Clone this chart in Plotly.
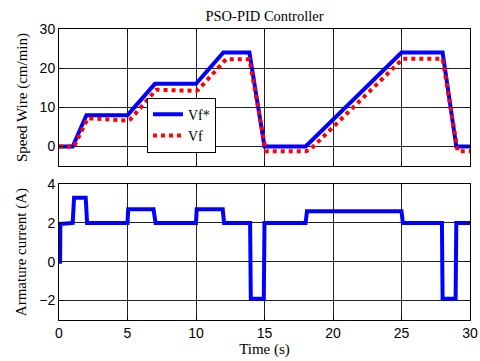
import plotly.graph_objects as go

# speed reference Vf* and measured Vf (cm/min)
t_ref = [0, 1.0, 2.0, 5.0, 7.0, 10.0, 12.0, 13.9, 15.0, 18.0, 25.0, 28.0, 29.0, 30]
vf_ref = [0, 0, 8, 8, 16, 16, 24, 24, 0, 0, 24, 24, 0, 0]

t_vf = [0, 1.1, 2.1, 5.0, 5.2, 7.1, 10.0, 10.2, 12.2, 13.9, 15.1, 18.0, 18.3, 25.1, 28.0, 29.1, 30]
vf = [0, 0, 7.2, 6.6, 6.9, 14.5, 14.2, 14.6, 22.3, 22.3, -1.2, -1.2, -0.9, 22.4, 22.4, -1.2, -1.2]

# armature current (A)
t_ia = [0, 0.08, 0.1, 1.0, 1.1, 1.95, 2.05, 5.0, 5.05, 6.9, 7.05, 10.0, 10.05, 11.95, 12.05,
        13.95, 14.0, 14.95, 15.0, 18.0, 18.1, 25.0, 25.1, 27.95, 28.0, 28.95, 29.0, 30]
ia = [0, 0, 1.95, 2.0, 3.3, 3.3, 2.0, 2.0, 2.7, 2.7, 2.0, 2.0, 2.7, 2.7, 2.0,
      2.0, -1.9, -1.9, 2.0, 2.0, 2.6, 2.6, 2.0, 2.0, -1.9, -1.9, 2.0, 2.0]

serif = "Liberation Serif, Times New Roman, serif"
sans = "Liberation Sans, Arial, sans-serif"

fig = go.Figure()
fig.add_trace(go.Scatter(x=t_ref, y=vf_ref, mode="lines", name="Vf*",
                         line=dict(color="#0000ff", width=4), xaxis="x", yaxis="y"))
fig.add_trace(go.Scatter(x=t_vf, y=vf, mode="lines", name="Vf",
                         line=dict(color="#ff0000", width=4, dash="dot"), xaxis="x", yaxis="y"))
fig.add_trace(go.Scatter(x=t_ia, y=ia, mode="lines", showlegend=False,
                         line=dict(color="#0000ff", width=4), xaxis="x2", yaxis="y2"))

ax = dict(showline=True, mirror="allticks", linecolor="black", linewidth=1,
          showgrid=True, gridcolor="#222222", gridwidth=1, zeroline=False,
          ticks="inside", ticklen=4, tickcolor="black", automargin=False,
          tickfont=dict(family=sans, size=14, color="black"))

fig.update_layout(
    width=480, height=361,
    margin=dict(l=59, r=10, t=29, b=41),
    plot_bgcolor="white", paper_bgcolor="white",
    title=dict(text="PSO-PID Controller", x=0.5, xref="paper", xanchor="center",
               y=1 - 16 / 361, yref="container", yanchor="middle",
               font=dict(family=serif, size=14.5, color="black")),
    xaxis=dict(ax, range=[0, 30], dtick=5, anchor="y", showticklabels=False),
    yaxis=dict(ax, range=[-5, 30], tickvals=[0, 10, 20, 30], domain=[0.529, 1],
               title=dict(text="Speed Wire (cm/min)", standoff=8,
                          font=dict(family=serif, size=15, color="black"))),
    xaxis2=dict(ax, range=[0, 30], dtick=5, anchor="y2",
                title=dict(text="Time (s)", standoff=2,
                           font=dict(family=serif, size=15, color="black"))),
    yaxis2=dict(ax, range=[-3, 4], tickvals=[-2, 0, 2, 4], domain=[0, 0.467],
                title=dict(text="Armature current (A)", standoff=8,
                           font=dict(family=serif, size=15, color="black"))),
    legend=dict(x=0.214, y=0.764, xanchor="left", yanchor="top",
                bgcolor="white", bordercolor="black", borderwidth=1,
                font=dict(family=serif, size=14, color="black"),
                tracegroupgap=0),
)

# drop the default 8px page margin so the figure fills the window
fig.write_html("out.html", config={"displayModeBar": False},
               post_script="document.body.style.margin='0';")
